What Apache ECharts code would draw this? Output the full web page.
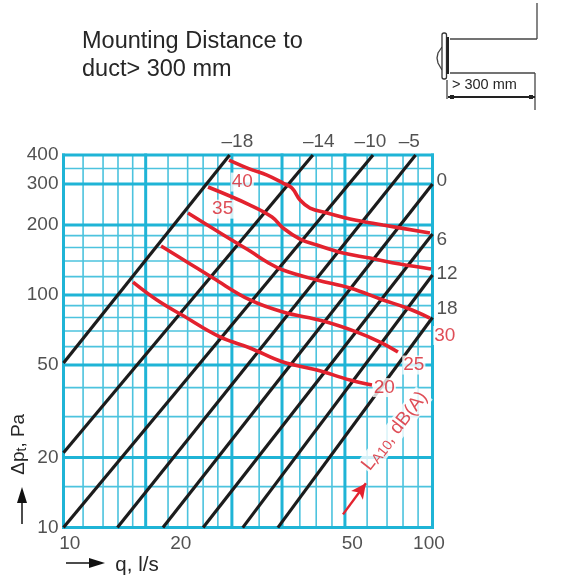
<!doctype html><html><head><meta charset="utf-8"><style>html,body{margin:0;background:#fff}#c{width:568px;height:578px}</style>
<script src="https://cdn.jsdelivr.net/npm/echarts@6/dist/echarts.min.js"></script></head><body><div id="c"></div><script>
// Grid lines
const qHeavy=[10,16.7,28.6,39.1,57.9,100];
const qThin=[11.3,12.8,14.05,15.4,19.2,21.7,23.9,26.2,33.9,43.7,48.4,53.4,66.5,75.3,83.2,91.4];
const pHeavy=[10,20,50,100,200,300,400];
const pThin=[15,30,40,60,70,80,90,120,140,160,180,350];
// Black pressure lines: [q,p] endpoints
const lineM18=[[10,51],[28.2,400]];
const lineM14=[[10,21],[47.4,400]];
const lineM10=[[10,10],[69,400]];
const lineM5=[[14,10],[90,400]];
const line0=[[18.6,10],[100,300]];
const line6=[[23.9,10],[100,183]];
const line12=[[30.6,10],[100,122]];
const line18=[[38.1,10],[100,80]];
// Red sound-level curves
const q40=[28.09,32.02,35.61,39.34,41.6,43.75,46.56,51.8,59.76,73.43,98.4], p40=[380.6,348,328,303,288.4,256,236.6,225.2,212.2,200,184.8];
const q35=[24.64,32.02,36.73,39.34,43.75,48.64,57.2,67.7,81.6,99.1], p35=[291.3,243.8,216.5,194.1,174.1,164,151.6,144.2,135.9,129.4];
const q30=[21.74,30.08,32.02,35.61,39.34,48.64,59.76,73.43,85.3,98.4], p30=[225.2,164,154.6,138.7,128.1,116,107.2,95.2,87.9,79.6];
const q25=[18.38,21.61,25.42,32.02,39.34,50.5,62.4,72.1,80.6], p25=[162.4,138.7,118.3,95.2,84.5,77.3,69.3,62.8,56.9];
const q20=[15.43,17.92,20.95,26.55,32.02,39.34,48.64,59.76,68.55], p20=[113.7,95.2,82,66,59.2,51.5,47.6,43.1,41];
// Tick labels
const xTicks=['10','20','50','100'], xTickAt=[10.4,20.8,60.6,97.8];
const yTicks=[400,300,200,100,50,20,10];
const topLabels=['–18','–14','–10','–5'], topAt=[29.6,49.2,67.9,86.5];
const rightLabels=['0','6','12','18'], rightAt=[309,172,123,87];
const redLabels=['40','35','30','25','20'], redAtQ=[30.5,27,108,89,74], redAtP=[306,234,67,50,40];
const arrowFrom=[57.2,11.4], arrowTo=[66,15.5];

const font='"Liberation Sans"', dark='#262626', red='#d7202c', cyan='#1fb4d6', cyanThin='#4cc3de';
const segV=a=>a.flatMap(q=>[[q,10],[q,400],[null,null]]);
const segH=a=>a.flatMap(p=>[[10,p],[100,p],[null,null]]);
const gridS=(d,w,c,z)=>({type:'line',data:d,symbol:'none',silent:true,clip:false,connectNulls:false,z,lineStyle:{color:c,width:w,cap:'square'}});
const black=d=>({type:'line',data:d,symbol:'none',silent:true,z:3,lineStyle:{color:'#1c1c1c',width:3.2,cap:'butt'}});
const curve=(q,p)=>({type:'line',data:q.map((v,i)=>[v,p[i]]),symbol:'none',smooth:0.4,silent:true,z:4,lineStyle:{color:'#e3222e',width:3.6}});
const tags=(pts,texts,lab)=>({type:'scatter',symbolSize:0,silent:true,clip:false,z:6,data:pts.map((v,i)=>({value:v,label:{formatter:texts[i]}})),
  label:Object.assign({show:true,fontFamily:font,fontSize:19,color:dark},lab)});
const s=[
 gridS(segV(qThin),1.6,cyanThin,1),gridS(segH(pThin),1.6,cyanThin,1),
 gridS(segV(qHeavy),3,cyan,2),gridS(segH(pHeavy),3,cyan,2),
 ...[lineM18,lineM14,lineM10,lineM5,line0,line6,line12,line18].map(black),
 curve(q40,p40),curve(q35,p35),curve(q30,p30),curve(q25,p25),curve(q20,p20),
 tags(xTickAt.map(q=>[q,10]),xTicks,{position:'bottom',distance:7}),
 tags(yTicks.map(p=>[10,p]),yTicks.map(String),{position:'left',distance:5}),
 tags(topAt.map(q=>[q,400]),topLabels,{position:'top',distance:4}),
 tags(rightAt.map(p=>[100,p]),rightLabels,{position:'right',distance:4}),
 tags(redAtQ.map((q,i)=>[q,redAtP[i]]),redLabels,{position:'inside',color:red,backgroundColor:'#fff',padding:[0,1]}),
 {type:'scatter',symbolSize:0,silent:true,clip:false,z:6,data:[[79,26]],label:{show:true,position:'inside',rotate:52,backgroundColor:'#fff',padding:[0,1],
   formatter:'{a|L}{s|A10}{a|, dB(A)}',rich:{a:{fontFamily:font,fontSize:19,color:red},s:{fontFamily:font,fontSize:14,color:red,verticalAlign:'bottom',padding:[7,0,0,0]}}}},
 {type:'line',data:[],z:7,silent:true,markLine:{silent:true,animation:false,symbol:['none','arrow'],symbolSize:[11,15],label:{show:false},lineStyle:{color:'#e3222e',width:2.4,type:'solid'},
   data:[[{coord:arrowFrom},{coord:arrowTo}]]}}
];
const stroke={stroke:'#444',lineWidth:1.3,fill:null};
const seg=(x1,y1,x2,y2,st)=>({type:'line',shape:{x1,y1,x2,y2},style:Object.assign({},stroke,st||{})});
const graphic=[
 seg(537,3,537,39),seg(450,39,537,39),seg(450,73,535,73),seg(535,73,535,110),
 seg(447,80,447,99),seg(448,97,535,97,{lineWidth:1.8,stroke:'#222'}),
 {type:'rect',shape:{x:450,y:95,width:4,height:4},style:{fill:'#222'}},{type:'rect',shape:{x:529,y:95,width:4,height:4},style:{fill:'#222'}},
 {type:'polyline',shape:{points:[[442,47],[438,53],[437,58],[438,63],[442,70]]},style:stroke},
 {type:'rect',shape:{x:442,y:33,width:4.5,height:46,r:2},style:{fill:'#fff',stroke:'#333',lineWidth:1.3}},
 {type:'rect',shape:{x:446.5,y:37,width:2.5,height:37},style:{fill:'#222'}},
 {type:'text',x:452,y:77,style:{text:'> 300 mm',fontFamily:font,fontSize:14.5,fill:'#262626'}},
 // axis direction arrows
 seg(22,524,22,500,{lineWidth:1.5,stroke:'#111'}),{type:'polygon',shape:{points:[[22,487],[27,503],[17,503]]},style:{fill:'#111'}},
 seg(66,563,92,563,{lineWidth:1.5,stroke:'#111'}),{type:'polygon',shape:{points:[[105,563],[89,558],[89,568]]},style:{fill:'#111'}}
];
const opt={animation:false,backgroundColor:'#fff',
 title:{text:'Mounting Distance to\nduct> 300 mm',left:77,top:23,textStyle:{fontFamily:font,fontSize:23.5,fontWeight:'normal',color:'#262626',lineHeight:28}},
 grid:{left:63.5,top:155,width:369,height:372.6,containLabel:false,outerBoundsMode:'none'},
 xAxis:{type:'log',logBase:10,min:10,max:100,axisLine:{show:false},axisTick:{show:false},axisLabel:{show:false},splitLine:{show:false},minorSplitLine:{show:false},
  name:'q, l/s',nameLocation:'middle',nameGap:27,nameTextStyle:{fontFamily:font,fontSize:20.5,color:dark,padding:[0,222,0,0]}},
 yAxis:{type:'log',logBase:10,min:10,max:400,axisLine:{show:false},axisTick:{show:false},axisLabel:{show:false},splitLine:{show:false},minorSplitLine:{show:false},
  name:'{a|Δp}{s|t}{a|, Pa}',nameLocation:'middle',nameRotate:90,nameGap:34,nameTextStyle:{padding:[0,206,0,0],rich:{a:{fontFamily:font,fontSize:19,color:dark},s:{fontFamily:font,fontSize:14,color:dark,verticalAlign:'bottom',padding:[7,0,0,0]}}}},
 series:s,graphic};
echarts.init(document.getElementById('c'),null,{renderer:'canvas'}).setOption(opt);
</script></body></html>
